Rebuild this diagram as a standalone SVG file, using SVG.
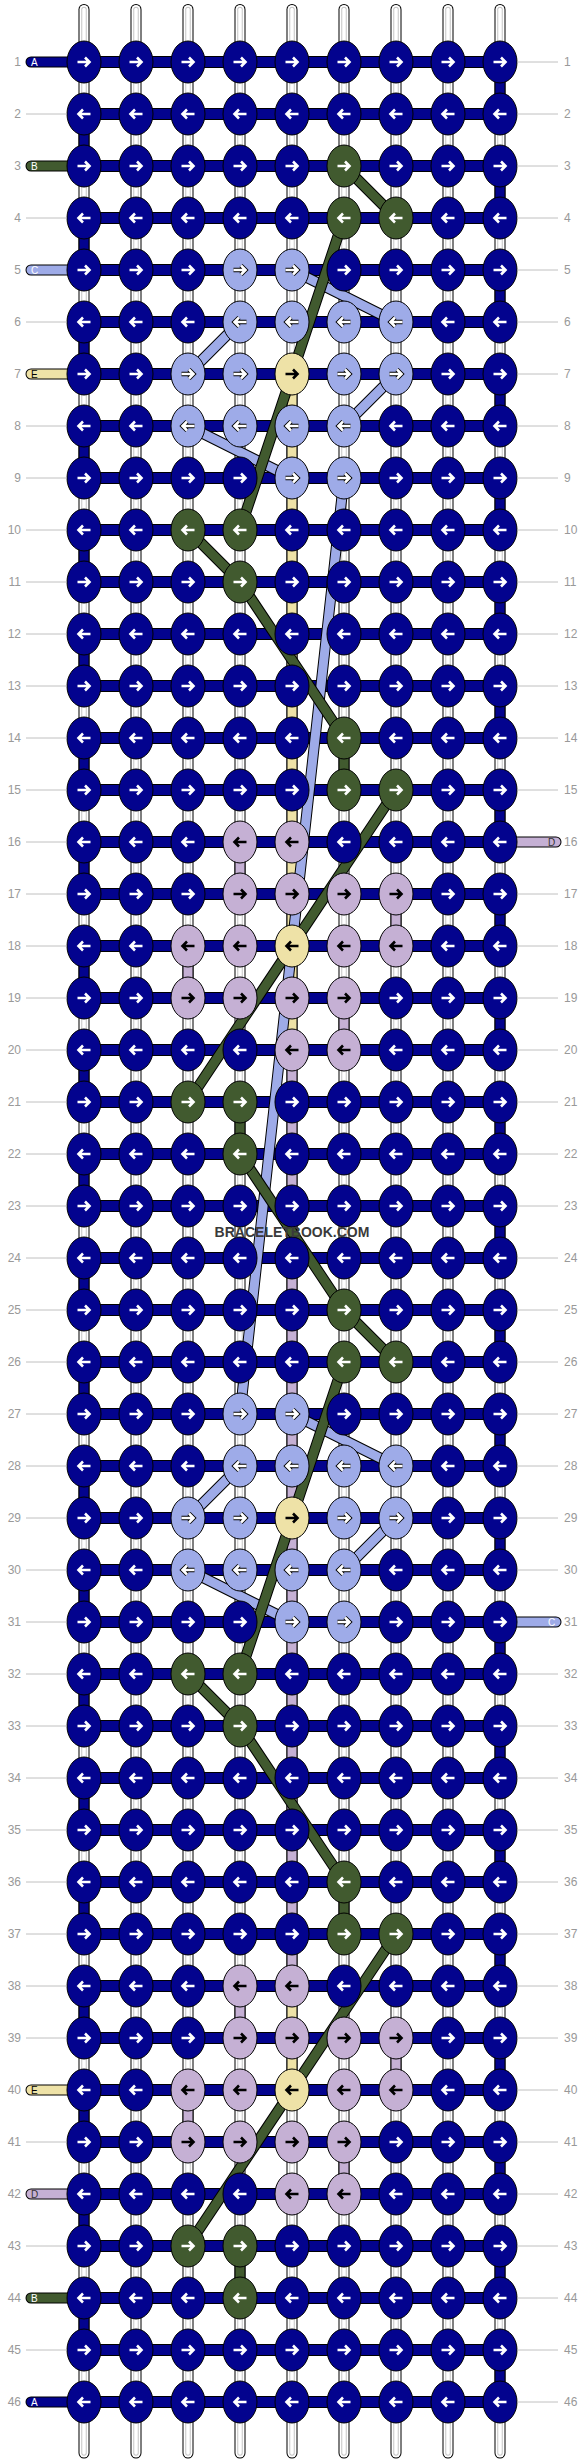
<svg xmlns="http://www.w3.org/2000/svg" width="584" height="2464" viewBox="0 0 584 2464">
<style>
.s1{fill:none;stroke:#000;stroke-width:11;stroke-linecap:round}
.s2{fill:none;stroke:#fff;stroke-width:9;stroke-linecap:round}
.s3{fill:none;stroke:#c4c4c4;stroke-width:5.5;stroke-linecap:round}
.s4{fill:none;stroke:#fff;stroke-width:3.5;stroke-linecap:round}
.vk{fill:none;stroke:#000;stroke-width:11}
.vb{fill:none;stroke:#03038e;stroke-width:9}
.vy{fill:none;stroke:#eee2a7;stroke-width:9}
.vp{fill:none;stroke:#c5b0d4;stroke-width:9}
.vg{fill:none;stroke:#415a2f;stroke-width:9}
.vl{fill:none;stroke:#9eabe8;stroke-width:9}
.hk{fill:none;stroke:#000;stroke-width:12}
.hb{fill:none;stroke:#03038e;stroke-width:10}
.tk{fill:none;stroke:#000;stroke-width:11;stroke-linecap:round}
.tb{fill:none;stroke:#03038e;stroke-width:9;stroke-linecap:round}
.tg{fill:none;stroke:#415a2f;stroke-width:9;stroke-linecap:round}
.tl{fill:none;stroke:#9eabe8;stroke-width:9;stroke-linecap:round}
.ty{fill:none;stroke:#eee2a7;stroke-width:9;stroke-linecap:round}
.tp{fill:none;stroke:#c5b0d4;stroke-width:9;stroke-linecap:round}
.dk{fill:none;stroke:#000;stroke-width:11}
.dg{fill:none;stroke:#415a2f;stroke-width:9}
.dl{fill:none;stroke:#9eabe8;stroke-width:9}
.nb{fill:#03038e;stroke:#000;stroke-width:1}
.ng{fill:#415a2f;stroke:#000;stroke-width:1}
.nl{fill:#9eabe8;stroke:#000;stroke-width:1}
.np{fill:#c5b0d4;stroke:#000;stroke-width:1}
.ny{fill:#eee2a7;stroke:#000;stroke-width:1}
.aw{fill:none;stroke:#fff;stroke-width:2.6}
.ak{fill:none;stroke:#000;stroke-width:2.6}
.ao{fill:none;stroke:#000;stroke-width:4.4}
.ln{fill:none;stroke:#c0c0c0;stroke-width:1}
.num{font-family:"Liberation Sans",Arial,sans-serif;font-size:12px;fill:#999}
.lt{font-family:"Liberation Sans",Arial,sans-serif;font-size:10px}
</style>
<defs>
<path id="sp" d="M0,9.5V2453"/>
<g id="strand"><use href="#sp" class="s1"/><use href="#sp" class="s2"/><use href="#sp" class="s3"/><use href="#sp" class="s4"/></g>
<path id="ar" d="M-6.5,0H5M1,-4.5L5.5,0L1,4.5"/>
<path id="al" d="M6.5,0H-5M-1,-4.5L-5.5,0L-1,4.5"/>
<ellipse id="el" rx="17" ry="21"/>
<g id="bR"><use href="#el" class="nb"/><use href="#ar" class="aw"/></g>
<g id="bL"><use href="#el" class="nb"/><use href="#al" class="aw"/></g>
<g id="gR"><use href="#el" class="ng"/><use href="#ar" class="aw"/></g>
<g id="gL"><use href="#el" class="ng"/><use href="#al" class="aw"/></g>
<g id="lR"><use href="#el" class="nl"/><use href="#ar" class="ao"/><use href="#ar" class="aw"/></g>
<g id="lL"><use href="#el" class="nl"/><use href="#al" class="ao"/><use href="#al" class="aw"/></g>
<g id="pR"><use href="#el" class="np"/><use href="#ar" class="ak"/></g>
<g id="pL"><use href="#el" class="np"/><use href="#al" class="ak"/></g>
<g id="yR"><use href="#el" class="ny"/><use href="#ar" class="ak"/></g>
<g id="yL"><use href="#el" class="ny"/><use href="#al" class="ak"/></g>
</defs>
<rect width="584" height="2464" fill="#fff"/>
<g id="strands">
<use href="#strand" x="84"/><use href="#strand" x="136"/><use href="#strand" x="188"/><use href="#strand" x="240"/><use href="#strand" x="292"/><use href="#strand" x="344"/><use href="#strand" x="396"/><use href="#strand" x="448"/><use href="#strand" x="500"/>
</g>
<g id="connectors">
<path class="vk" d="M84,114V2350" stroke-dasharray="52 52"/>
<path class="vb" d="M84,114V2350" stroke-dasharray="52 52"/>
<path class="vk" d="M500,62V2402" stroke-dasharray="52 52"/>
<path class="vb" d="M500,62V2402" stroke-dasharray="52 52"/>
<path class="vk" d="M292,374V2090M240,842V894M396,894V946M188,946V998M344,998V1050M240,1986V2038M396,2038V2090M188,2090V2142M344,2142V2194M344,738V790M240,1102V1154M344,1882V1934M240,2246V2298"/>
<path class="vy" d="M292,374V1050M292,1986V2090"/>
<path class="vp" d="M292,1050V1986M240,842V894M396,894V946M188,946V998M344,998V1050M240,1986V2038M396,2038V2090M188,2090V2142M344,2142V2194"/>
<path class="vg" d="M344,738V790M240,1102V1154M344,1882V1934M240,2246V2298"/>
<path class="hk" d="M84,62H500M84,114H500M84,166H500M84,218H500M84,270H500M84,322H500M84,374H500M84,426H500M84,478H500M84,530H500M84,582H500M84,634H500M84,686H500M84,738H500M84,790H500M84,842H500M84,894H500M84,946H500M84,998H500M84,1050H500M84,1102H500M84,1154H500M84,1206H500M84,1258H500M84,1310H500M84,1362H500M84,1414H500M84,1466H500M84,1518H500M84,1570H500M84,1622H500M84,1674H500M84,1726H500M84,1778H500M84,1830H500M84,1882H500M84,1934H500M84,1986H500M84,2038H500M84,2090H500M84,2142H500M84,2194H500M84,2246H500M84,2298H500M84,2350H500M84,2402H500"/>
<path class="hb" d="M84,62H500M84,114H500M84,166H500M84,218H500M84,270H500M84,322H500M84,374H500M84,426H500M84,478H500M84,530H500M84,582H500M84,634H500M84,686H500M84,738H500M84,790H500M84,842H500M84,894H500M84,946H500M84,998H500M84,1050H500M84,1102H500M84,1154H500M84,1206H500M84,1258H500M84,1310H500M84,1362H500M84,1414H500M84,1466H500M84,1518H500M84,1570H500M84,1622H500M84,1674H500M84,1726H500M84,1778H500M84,1830H500M84,1882H500M84,1934H500M84,1986H500M84,2038H500M84,2090H500M84,2142H500M84,2194H500M84,2246H500M84,2298H500M84,2350H500M84,2402H500"/>
<g id="tails">
<path class="tk" d="M31,62H84M31,166H84M31,270H84M31,374H84M31,2090H84M31,2194H84M31,2298H84M31,2402H84M500,842H556M500,1622H556"/>
<path class="tb" d="M31,62H84M31,2402H84"/>
<path class="tg" d="M31,166H84M31,2298H84"/>
<path class="tl" d="M31,270H84M500,1622H556"/>
<path class="ty" d="M31,374H84M31,2090H84"/>
<path class="tp" d="M31,2194H84M500,842H556"/>
</g>
<path class="dk" d="M292,270L396,322M240,322L188,374M396,374L344,426M188,426L292,478M344,478L240,1414M292,1414L396,1466M240,1466L188,1518M396,1518L344,1570M188,1570L292,1622"/>
<path class="dl" d="M292,270L396,322M240,322L188,374M396,374L344,426M188,426L292,478M344,478L240,1414M292,1414L396,1466M240,1466L188,1518M396,1518L344,1570M188,1570L292,1622"/>
<path class="dk" d="M344,166L396,218M344,218L240,530M188,530L240,582M240,582L344,738M396,790L188,1102M240,1154L344,1310M344,1310L396,1362M344,1362L240,1674M188,1674L240,1726M240,1726L344,1882M396,1934L188,2246"/>
<path class="dg" d="M344,166L396,218M344,218L240,530M188,530L240,582M240,582L344,738M396,790L188,1102M240,1154L344,1310M344,1310L396,1362M344,1362L240,1674M188,1674L240,1726M240,1726L344,1882M396,1934L188,2246"/>
</g>
<g id="nodes">
<g transform="translate(0,62)"><g id="n1_1"><use href="#bR" x="84"/></g><g id="n1_2"><use href="#bR" x="136"/></g><g id="n1_3"><use href="#bR" x="188"/></g><g id="n1_4"><use href="#bR" x="240"/></g><g id="n1_5"><use href="#bR" x="292"/></g><g id="n1_6"><use href="#bR" x="344"/></g><g id="n1_7"><use href="#bR" x="396"/></g><g id="n1_8"><use href="#bR" x="448"/></g><g id="n1_9"><use href="#bR" x="500"/></g></g>
<g transform="translate(0,114)"><g id="n2_1"><use href="#bL" x="84"/></g><g id="n2_2"><use href="#bL" x="136"/></g><g id="n2_3"><use href="#bL" x="188"/></g><g id="n2_4"><use href="#bL" x="240"/></g><g id="n2_5"><use href="#bL" x="292"/></g><g id="n2_6"><use href="#bL" x="344"/></g><g id="n2_7"><use href="#bL" x="396"/></g><g id="n2_8"><use href="#bL" x="448"/></g><g id="n2_9"><use href="#bL" x="500"/></g></g>
<g transform="translate(0,166)"><g id="n3_1"><use href="#bR" x="84"/></g><g id="n3_2"><use href="#bR" x="136"/></g><g id="n3_3"><use href="#bR" x="188"/></g><g id="n3_4"><use href="#bR" x="240"/></g><g id="n3_5"><use href="#bR" x="292"/></g><g id="n3_6"><use href="#gR" x="344"/></g><g id="n3_7"><use href="#bR" x="396"/></g><g id="n3_8"><use href="#bR" x="448"/></g><g id="n3_9"><use href="#bR" x="500"/></g></g>
<g transform="translate(0,218)"><g id="n4_1"><use href="#bL" x="84"/></g><g id="n4_2"><use href="#bL" x="136"/></g><g id="n4_3"><use href="#bL" x="188"/></g><g id="n4_4"><use href="#bL" x="240"/></g><g id="n4_5"><use href="#bL" x="292"/></g><g id="n4_6"><use href="#gL" x="344"/></g><g id="n4_7"><use href="#gL" x="396"/></g><g id="n4_8"><use href="#bL" x="448"/></g><g id="n4_9"><use href="#bL" x="500"/></g></g>
<g transform="translate(0,270)"><g id="n5_1"><use href="#bR" x="84"/></g><g id="n5_2"><use href="#bR" x="136"/></g><g id="n5_3"><use href="#bR" x="188"/></g><g id="n5_4"><use href="#lR" x="240"/></g><g id="n5_5"><use href="#lR" x="292"/></g><g id="n5_6"><use href="#bR" x="344"/></g><g id="n5_7"><use href="#bR" x="396"/></g><g id="n5_8"><use href="#bR" x="448"/></g><g id="n5_9"><use href="#bR" x="500"/></g></g>
<g transform="translate(0,322)"><g id="n6_1"><use href="#bL" x="84"/></g><g id="n6_2"><use href="#bL" x="136"/></g><g id="n6_3"><use href="#bL" x="188"/></g><g id="n6_4"><use href="#lL" x="240"/></g><g id="n6_5"><use href="#lL" x="292"/></g><g id="n6_6"><use href="#lL" x="344"/></g><g id="n6_7"><use href="#lL" x="396"/></g><g id="n6_8"><use href="#bL" x="448"/></g><g id="n6_9"><use href="#bL" x="500"/></g></g>
<g transform="translate(0,374)"><g id="n7_1"><use href="#bR" x="84"/></g><g id="n7_2"><use href="#bR" x="136"/></g><g id="n7_3"><use href="#lR" x="188"/></g><g id="n7_4"><use href="#lR" x="240"/></g><g id="n7_5"><use href="#yR" x="292"/></g><g id="n7_6"><use href="#lR" x="344"/></g><g id="n7_7"><use href="#lR" x="396"/></g><g id="n7_8"><use href="#bR" x="448"/></g><g id="n7_9"><use href="#bR" x="500"/></g></g>
<g transform="translate(0,426)"><g id="n8_1"><use href="#bL" x="84"/></g><g id="n8_2"><use href="#bL" x="136"/></g><g id="n8_3"><use href="#lL" x="188"/></g><g id="n8_4"><use href="#lL" x="240"/></g><g id="n8_5"><use href="#lL" x="292"/></g><g id="n8_6"><use href="#lL" x="344"/></g><g id="n8_7"><use href="#bL" x="396"/></g><g id="n8_8"><use href="#bL" x="448"/></g><g id="n8_9"><use href="#bL" x="500"/></g></g>
<g transform="translate(0,478)"><g id="n9_1"><use href="#bR" x="84"/></g><g id="n9_2"><use href="#bR" x="136"/></g><g id="n9_3"><use href="#bR" x="188"/></g><g id="n9_4"><use href="#bR" x="240"/></g><g id="n9_5"><use href="#lR" x="292"/></g><g id="n9_6"><use href="#lR" x="344"/></g><g id="n9_7"><use href="#bR" x="396"/></g><g id="n9_8"><use href="#bR" x="448"/></g><g id="n9_9"><use href="#bR" x="500"/></g></g>
<g transform="translate(0,530)"><g id="n10_1"><use href="#bL" x="84"/></g><g id="n10_2"><use href="#bL" x="136"/></g><g id="n10_3"><use href="#gL" x="188"/></g><g id="n10_4"><use href="#gL" x="240"/></g><g id="n10_5"><use href="#bL" x="292"/></g><g id="n10_6"><use href="#bL" x="344"/></g><g id="n10_7"><use href="#bL" x="396"/></g><g id="n10_8"><use href="#bL" x="448"/></g><g id="n10_9"><use href="#bL" x="500"/></g></g>
<g transform="translate(0,582)"><g id="n11_1"><use href="#bR" x="84"/></g><g id="n11_2"><use href="#bR" x="136"/></g><g id="n11_3"><use href="#bR" x="188"/></g><g id="n11_4"><use href="#gR" x="240"/></g><g id="n11_5"><use href="#bR" x="292"/></g><g id="n11_6"><use href="#bR" x="344"/></g><g id="n11_7"><use href="#bR" x="396"/></g><g id="n11_8"><use href="#bR" x="448"/></g><g id="n11_9"><use href="#bR" x="500"/></g></g>
<g transform="translate(0,634)"><g id="n12_1"><use href="#bL" x="84"/></g><g id="n12_2"><use href="#bL" x="136"/></g><g id="n12_3"><use href="#bL" x="188"/></g><g id="n12_4"><use href="#bL" x="240"/></g><g id="n12_5"><use href="#bL" x="292"/></g><g id="n12_6"><use href="#bL" x="344"/></g><g id="n12_7"><use href="#bL" x="396"/></g><g id="n12_8"><use href="#bL" x="448"/></g><g id="n12_9"><use href="#bL" x="500"/></g></g>
<g transform="translate(0,686)"><g id="n13_1"><use href="#bR" x="84"/></g><g id="n13_2"><use href="#bR" x="136"/></g><g id="n13_3"><use href="#bR" x="188"/></g><g id="n13_4"><use href="#bR" x="240"/></g><g id="n13_5"><use href="#bR" x="292"/></g><g id="n13_6"><use href="#bR" x="344"/></g><g id="n13_7"><use href="#bR" x="396"/></g><g id="n13_8"><use href="#bR" x="448"/></g><g id="n13_9"><use href="#bR" x="500"/></g></g>
<g transform="translate(0,738)"><g id="n14_1"><use href="#bL" x="84"/></g><g id="n14_2"><use href="#bL" x="136"/></g><g id="n14_3"><use href="#bL" x="188"/></g><g id="n14_4"><use href="#bL" x="240"/></g><g id="n14_5"><use href="#bL" x="292"/></g><g id="n14_6"><use href="#gL" x="344"/></g><g id="n14_7"><use href="#bL" x="396"/></g><g id="n14_8"><use href="#bL" x="448"/></g><g id="n14_9"><use href="#bL" x="500"/></g></g>
<g transform="translate(0,790)"><g id="n15_1"><use href="#bR" x="84"/></g><g id="n15_2"><use href="#bR" x="136"/></g><g id="n15_3"><use href="#bR" x="188"/></g><g id="n15_4"><use href="#bR" x="240"/></g><g id="n15_5"><use href="#bR" x="292"/></g><g id="n15_6"><use href="#gR" x="344"/></g><g id="n15_7"><use href="#gR" x="396"/></g><g id="n15_8"><use href="#bR" x="448"/></g><g id="n15_9"><use href="#bR" x="500"/></g></g>
<g transform="translate(0,842)"><g id="n16_1"><use href="#bL" x="84"/></g><g id="n16_2"><use href="#bL" x="136"/></g><g id="n16_3"><use href="#bL" x="188"/></g><g id="n16_4"><use href="#pL" x="240"/></g><g id="n16_5"><use href="#pL" x="292"/></g><g id="n16_6"><use href="#bL" x="344"/></g><g id="n16_7"><use href="#bL" x="396"/></g><g id="n16_8"><use href="#bL" x="448"/></g><g id="n16_9"><use href="#bL" x="500"/></g></g>
<g transform="translate(0,894)"><g id="n17_1"><use href="#bR" x="84"/></g><g id="n17_2"><use href="#bR" x="136"/></g><g id="n17_3"><use href="#bR" x="188"/></g><g id="n17_4"><use href="#pR" x="240"/></g><g id="n17_5"><use href="#pR" x="292"/></g><g id="n17_6"><use href="#pR" x="344"/></g><g id="n17_7"><use href="#pR" x="396"/></g><g id="n17_8"><use href="#bR" x="448"/></g><g id="n17_9"><use href="#bR" x="500"/></g></g>
<g transform="translate(0,946)"><g id="n18_1"><use href="#bL" x="84"/></g><g id="n18_2"><use href="#bL" x="136"/></g><g id="n18_3"><use href="#pL" x="188"/></g><g id="n18_4"><use href="#pL" x="240"/></g><g id="n18_5"><use href="#yL" x="292"/></g><g id="n18_6"><use href="#pL" x="344"/></g><g id="n18_7"><use href="#pL" x="396"/></g><g id="n18_8"><use href="#bL" x="448"/></g><g id="n18_9"><use href="#bL" x="500"/></g></g>
<g transform="translate(0,998)"><g id="n19_1"><use href="#bR" x="84"/></g><g id="n19_2"><use href="#bR" x="136"/></g><g id="n19_3"><use href="#pR" x="188"/></g><g id="n19_4"><use href="#pR" x="240"/></g><g id="n19_5"><use href="#pR" x="292"/></g><g id="n19_6"><use href="#pR" x="344"/></g><g id="n19_7"><use href="#bR" x="396"/></g><g id="n19_8"><use href="#bR" x="448"/></g><g id="n19_9"><use href="#bR" x="500"/></g></g>
<g transform="translate(0,1050)"><g id="n20_1"><use href="#bL" x="84"/></g><g id="n20_2"><use href="#bL" x="136"/></g><g id="n20_3"><use href="#bL" x="188"/></g><g id="n20_4"><use href="#bL" x="240"/></g><g id="n20_5"><use href="#pL" x="292"/></g><g id="n20_6"><use href="#pL" x="344"/></g><g id="n20_7"><use href="#bL" x="396"/></g><g id="n20_8"><use href="#bL" x="448"/></g><g id="n20_9"><use href="#bL" x="500"/></g></g>
<g transform="translate(0,1102)"><g id="n21_1"><use href="#bR" x="84"/></g><g id="n21_2"><use href="#bR" x="136"/></g><g id="n21_3"><use href="#gR" x="188"/></g><g id="n21_4"><use href="#gR" x="240"/></g><g id="n21_5"><use href="#bR" x="292"/></g><g id="n21_6"><use href="#bR" x="344"/></g><g id="n21_7"><use href="#bR" x="396"/></g><g id="n21_8"><use href="#bR" x="448"/></g><g id="n21_9"><use href="#bR" x="500"/></g></g>
<g transform="translate(0,1154)"><g id="n22_1"><use href="#bL" x="84"/></g><g id="n22_2"><use href="#bL" x="136"/></g><g id="n22_3"><use href="#bL" x="188"/></g><g id="n22_4"><use href="#gL" x="240"/></g><g id="n22_5"><use href="#bL" x="292"/></g><g id="n22_6"><use href="#bL" x="344"/></g><g id="n22_7"><use href="#bL" x="396"/></g><g id="n22_8"><use href="#bL" x="448"/></g><g id="n22_9"><use href="#bL" x="500"/></g></g>
<g transform="translate(0,1206)"><g id="n23_1"><use href="#bR" x="84"/></g><g id="n23_2"><use href="#bR" x="136"/></g><g id="n23_3"><use href="#bR" x="188"/></g><g id="n23_4"><use href="#bR" x="240"/></g><g id="n23_5"><use href="#bR" x="292"/></g><g id="n23_6"><use href="#bR" x="344"/></g><g id="n23_7"><use href="#bR" x="396"/></g><g id="n23_8"><use href="#bR" x="448"/></g><g id="n23_9"><use href="#bR" x="500"/></g></g>
<g transform="translate(0,1258)"><g id="n24_1"><use href="#bL" x="84"/></g><g id="n24_2"><use href="#bL" x="136"/></g><g id="n24_3"><use href="#bL" x="188"/></g><g id="n24_4"><use href="#bL" x="240"/></g><g id="n24_5"><use href="#bL" x="292"/></g><g id="n24_6"><use href="#bL" x="344"/></g><g id="n24_7"><use href="#bL" x="396"/></g><g id="n24_8"><use href="#bL" x="448"/></g><g id="n24_9"><use href="#bL" x="500"/></g></g>
<g transform="translate(0,1310)"><g id="n25_1"><use href="#bR" x="84"/></g><g id="n25_2"><use href="#bR" x="136"/></g><g id="n25_3"><use href="#bR" x="188"/></g><g id="n25_4"><use href="#bR" x="240"/></g><g id="n25_5"><use href="#bR" x="292"/></g><g id="n25_6"><use href="#gR" x="344"/></g><g id="n25_7"><use href="#bR" x="396"/></g><g id="n25_8"><use href="#bR" x="448"/></g><g id="n25_9"><use href="#bR" x="500"/></g></g>
<g transform="translate(0,1362)"><g id="n26_1"><use href="#bL" x="84"/></g><g id="n26_2"><use href="#bL" x="136"/></g><g id="n26_3"><use href="#bL" x="188"/></g><g id="n26_4"><use href="#bL" x="240"/></g><g id="n26_5"><use href="#bL" x="292"/></g><g id="n26_6"><use href="#gL" x="344"/></g><g id="n26_7"><use href="#gL" x="396"/></g><g id="n26_8"><use href="#bL" x="448"/></g><g id="n26_9"><use href="#bL" x="500"/></g></g>
<g transform="translate(0,1414)"><g id="n27_1"><use href="#bR" x="84"/></g><g id="n27_2"><use href="#bR" x="136"/></g><g id="n27_3"><use href="#bR" x="188"/></g><g id="n27_4"><use href="#lR" x="240"/></g><g id="n27_5"><use href="#lR" x="292"/></g><g id="n27_6"><use href="#bR" x="344"/></g><g id="n27_7"><use href="#bR" x="396"/></g><g id="n27_8"><use href="#bR" x="448"/></g><g id="n27_9"><use href="#bR" x="500"/></g></g>
<g transform="translate(0,1466)"><g id="n28_1"><use href="#bL" x="84"/></g><g id="n28_2"><use href="#bL" x="136"/></g><g id="n28_3"><use href="#bL" x="188"/></g><g id="n28_4"><use href="#lL" x="240"/></g><g id="n28_5"><use href="#lL" x="292"/></g><g id="n28_6"><use href="#lL" x="344"/></g><g id="n28_7"><use href="#lL" x="396"/></g><g id="n28_8"><use href="#bL" x="448"/></g><g id="n28_9"><use href="#bL" x="500"/></g></g>
<g transform="translate(0,1518)"><g id="n29_1"><use href="#bR" x="84"/></g><g id="n29_2"><use href="#bR" x="136"/></g><g id="n29_3"><use href="#lR" x="188"/></g><g id="n29_4"><use href="#lR" x="240"/></g><g id="n29_5"><use href="#yR" x="292"/></g><g id="n29_6"><use href="#lR" x="344"/></g><g id="n29_7"><use href="#lR" x="396"/></g><g id="n29_8"><use href="#bR" x="448"/></g><g id="n29_9"><use href="#bR" x="500"/></g></g>
<g transform="translate(0,1570)"><g id="n30_1"><use href="#bL" x="84"/></g><g id="n30_2"><use href="#bL" x="136"/></g><g id="n30_3"><use href="#lL" x="188"/></g><g id="n30_4"><use href="#lL" x="240"/></g><g id="n30_5"><use href="#lL" x="292"/></g><g id="n30_6"><use href="#lL" x="344"/></g><g id="n30_7"><use href="#bL" x="396"/></g><g id="n30_8"><use href="#bL" x="448"/></g><g id="n30_9"><use href="#bL" x="500"/></g></g>
<g transform="translate(0,1622)"><g id="n31_1"><use href="#bR" x="84"/></g><g id="n31_2"><use href="#bR" x="136"/></g><g id="n31_3"><use href="#bR" x="188"/></g><g id="n31_4"><use href="#bR" x="240"/></g><g id="n31_5"><use href="#lR" x="292"/></g><g id="n31_6"><use href="#lR" x="344"/></g><g id="n31_7"><use href="#bR" x="396"/></g><g id="n31_8"><use href="#bR" x="448"/></g><g id="n31_9"><use href="#bR" x="500"/></g></g>
<g transform="translate(0,1674)"><g id="n32_1"><use href="#bL" x="84"/></g><g id="n32_2"><use href="#bL" x="136"/></g><g id="n32_3"><use href="#gL" x="188"/></g><g id="n32_4"><use href="#gL" x="240"/></g><g id="n32_5"><use href="#bL" x="292"/></g><g id="n32_6"><use href="#bL" x="344"/></g><g id="n32_7"><use href="#bL" x="396"/></g><g id="n32_8"><use href="#bL" x="448"/></g><g id="n32_9"><use href="#bL" x="500"/></g></g>
<g transform="translate(0,1726)"><g id="n33_1"><use href="#bR" x="84"/></g><g id="n33_2"><use href="#bR" x="136"/></g><g id="n33_3"><use href="#bR" x="188"/></g><g id="n33_4"><use href="#gR" x="240"/></g><g id="n33_5"><use href="#bR" x="292"/></g><g id="n33_6"><use href="#bR" x="344"/></g><g id="n33_7"><use href="#bR" x="396"/></g><g id="n33_8"><use href="#bR" x="448"/></g><g id="n33_9"><use href="#bR" x="500"/></g></g>
<g transform="translate(0,1778)"><g id="n34_1"><use href="#bL" x="84"/></g><g id="n34_2"><use href="#bL" x="136"/></g><g id="n34_3"><use href="#bL" x="188"/></g><g id="n34_4"><use href="#bL" x="240"/></g><g id="n34_5"><use href="#bL" x="292"/></g><g id="n34_6"><use href="#bL" x="344"/></g><g id="n34_7"><use href="#bL" x="396"/></g><g id="n34_8"><use href="#bL" x="448"/></g><g id="n34_9"><use href="#bL" x="500"/></g></g>
<g transform="translate(0,1830)"><g id="n35_1"><use href="#bR" x="84"/></g><g id="n35_2"><use href="#bR" x="136"/></g><g id="n35_3"><use href="#bR" x="188"/></g><g id="n35_4"><use href="#bR" x="240"/></g><g id="n35_5"><use href="#bR" x="292"/></g><g id="n35_6"><use href="#bR" x="344"/></g><g id="n35_7"><use href="#bR" x="396"/></g><g id="n35_8"><use href="#bR" x="448"/></g><g id="n35_9"><use href="#bR" x="500"/></g></g>
<g transform="translate(0,1882)"><g id="n36_1"><use href="#bL" x="84"/></g><g id="n36_2"><use href="#bL" x="136"/></g><g id="n36_3"><use href="#bL" x="188"/></g><g id="n36_4"><use href="#bL" x="240"/></g><g id="n36_5"><use href="#bL" x="292"/></g><g id="n36_6"><use href="#gL" x="344"/></g><g id="n36_7"><use href="#bL" x="396"/></g><g id="n36_8"><use href="#bL" x="448"/></g><g id="n36_9"><use href="#bL" x="500"/></g></g>
<g transform="translate(0,1934)"><g id="n37_1"><use href="#bR" x="84"/></g><g id="n37_2"><use href="#bR" x="136"/></g><g id="n37_3"><use href="#bR" x="188"/></g><g id="n37_4"><use href="#bR" x="240"/></g><g id="n37_5"><use href="#bR" x="292"/></g><g id="n37_6"><use href="#gR" x="344"/></g><g id="n37_7"><use href="#gR" x="396"/></g><g id="n37_8"><use href="#bR" x="448"/></g><g id="n37_9"><use href="#bR" x="500"/></g></g>
<g transform="translate(0,1986)"><g id="n38_1"><use href="#bL" x="84"/></g><g id="n38_2"><use href="#bL" x="136"/></g><g id="n38_3"><use href="#bL" x="188"/></g><g id="n38_4"><use href="#pL" x="240"/></g><g id="n38_5"><use href="#pL" x="292"/></g><g id="n38_6"><use href="#bL" x="344"/></g><g id="n38_7"><use href="#bL" x="396"/></g><g id="n38_8"><use href="#bL" x="448"/></g><g id="n38_9"><use href="#bL" x="500"/></g></g>
<g transform="translate(0,2038)"><g id="n39_1"><use href="#bR" x="84"/></g><g id="n39_2"><use href="#bR" x="136"/></g><g id="n39_3"><use href="#bR" x="188"/></g><g id="n39_4"><use href="#pR" x="240"/></g><g id="n39_5"><use href="#pR" x="292"/></g><g id="n39_6"><use href="#pR" x="344"/></g><g id="n39_7"><use href="#pR" x="396"/></g><g id="n39_8"><use href="#bR" x="448"/></g><g id="n39_9"><use href="#bR" x="500"/></g></g>
<g transform="translate(0,2090)"><g id="n40_1"><use href="#bL" x="84"/></g><g id="n40_2"><use href="#bL" x="136"/></g><g id="n40_3"><use href="#pL" x="188"/></g><g id="n40_4"><use href="#pL" x="240"/></g><g id="n40_5"><use href="#yL" x="292"/></g><g id="n40_6"><use href="#pL" x="344"/></g><g id="n40_7"><use href="#pL" x="396"/></g><g id="n40_8"><use href="#bL" x="448"/></g><g id="n40_9"><use href="#bL" x="500"/></g></g>
<g transform="translate(0,2142)"><g id="n41_1"><use href="#bR" x="84"/></g><g id="n41_2"><use href="#bR" x="136"/></g><g id="n41_3"><use href="#pR" x="188"/></g><g id="n41_4"><use href="#pR" x="240"/></g><g id="n41_5"><use href="#pR" x="292"/></g><g id="n41_6"><use href="#pR" x="344"/></g><g id="n41_7"><use href="#bR" x="396"/></g><g id="n41_8"><use href="#bR" x="448"/></g><g id="n41_9"><use href="#bR" x="500"/></g></g>
<g transform="translate(0,2194)"><g id="n42_1"><use href="#bL" x="84"/></g><g id="n42_2"><use href="#bL" x="136"/></g><g id="n42_3"><use href="#bL" x="188"/></g><g id="n42_4"><use href="#bL" x="240"/></g><g id="n42_5"><use href="#pL" x="292"/></g><g id="n42_6"><use href="#pL" x="344"/></g><g id="n42_7"><use href="#bL" x="396"/></g><g id="n42_8"><use href="#bL" x="448"/></g><g id="n42_9"><use href="#bL" x="500"/></g></g>
<g transform="translate(0,2246)"><g id="n43_1"><use href="#bR" x="84"/></g><g id="n43_2"><use href="#bR" x="136"/></g><g id="n43_3"><use href="#gR" x="188"/></g><g id="n43_4"><use href="#gR" x="240"/></g><g id="n43_5"><use href="#bR" x="292"/></g><g id="n43_6"><use href="#bR" x="344"/></g><g id="n43_7"><use href="#bR" x="396"/></g><g id="n43_8"><use href="#bR" x="448"/></g><g id="n43_9"><use href="#bR" x="500"/></g></g>
<g transform="translate(0,2298)"><g id="n44_1"><use href="#bL" x="84"/></g><g id="n44_2"><use href="#bL" x="136"/></g><g id="n44_3"><use href="#bL" x="188"/></g><g id="n44_4"><use href="#gL" x="240"/></g><g id="n44_5"><use href="#bL" x="292"/></g><g id="n44_6"><use href="#bL" x="344"/></g><g id="n44_7"><use href="#bL" x="396"/></g><g id="n44_8"><use href="#bL" x="448"/></g><g id="n44_9"><use href="#bL" x="500"/></g></g>
<g transform="translate(0,2350)"><g id="n45_1"><use href="#bR" x="84"/></g><g id="n45_2"><use href="#bR" x="136"/></g><g id="n45_3"><use href="#bR" x="188"/></g><g id="n45_4"><use href="#bR" x="240"/></g><g id="n45_5"><use href="#bR" x="292"/></g><g id="n45_6"><use href="#bR" x="344"/></g><g id="n45_7"><use href="#bR" x="396"/></g><g id="n45_8"><use href="#bR" x="448"/></g><g id="n45_9"><use href="#bR" x="500"/></g></g>
<g transform="translate(0,2402)"><g id="n46_1"><use href="#bL" x="84"/></g><g id="n46_2"><use href="#bL" x="136"/></g><g id="n46_3"><use href="#bL" x="188"/></g><g id="n46_4"><use href="#bL" x="240"/></g><g id="n46_5"><use href="#bL" x="292"/></g><g id="n46_6"><use href="#bL" x="344"/></g><g id="n46_7"><use href="#bL" x="396"/></g><g id="n46_8"><use href="#bL" x="448"/></g><g id="n46_9"><use href="#bL" x="500"/></g></g>
</g>
<g id="labels">
<path class="ln" d="M26,114H67M26,218H67M26,322H67M26,426H67M26,478H67M26,530H67M26,582H67M26,634H67M26,686H67M26,738H67M26,790H67M26,842H67M26,894H67M26,946H67M26,998H67M26,1050H67M26,1102H67M26,1154H67M26,1206H67M26,1258H67M26,1310H67M26,1362H67M26,1414H67M26,1466H67M26,1518H67M26,1570H67M26,1622H67M26,1674H67M26,1726H67M26,1778H67M26,1830H67M26,1882H67M26,1934H67M26,1986H67M26,2038H67M26,2142H67M26,2246H67M26,2350H67"/>
<path class="ln" d="M517,62H558M517,114H558M517,166H558M517,218H558M517,270H558M517,322H558M517,374H558M517,426H558M517,478H558M517,530H558M517,582H558M517,634H558M517,686H558M517,738H558M517,790H558M517,894H558M517,946H558M517,998H558M517,1050H558M517,1102H558M517,1154H558M517,1206H558M517,1258H558M517,1310H558M517,1362H558M517,1414H558M517,1466H558M517,1518H558M517,1570H558M517,1674H558M517,1726H558M517,1778H558M517,1830H558M517,1882H558M517,1934H558M517,1986H558M517,2038H558M517,2090H558M517,2142H558M517,2194H558M517,2246H558M517,2298H558M517,2350H558M517,2402H558"/>
<g class="num" text-anchor="end">
<text x="21" y="66">1</text><text x="21" y="118">2</text><text x="21" y="170">3</text><text x="21" y="222">4</text><text x="21" y="274">5</text><text x="21" y="326">6</text><text x="21" y="378">7</text><text x="21" y="430">8</text><text x="21" y="482">9</text><text x="21" y="534">10</text><text x="21" y="586">11</text><text x="21" y="638">12</text><text x="21" y="690">13</text><text x="21" y="742">14</text><text x="21" y="794">15</text><text x="21" y="846">16</text><text x="21" y="898">17</text><text x="21" y="950">18</text><text x="21" y="1002">19</text><text x="21" y="1054">20</text><text x="21" y="1106">21</text><text x="21" y="1158">22</text><text x="21" y="1210">23</text><text x="21" y="1262">24</text><text x="21" y="1314">25</text><text x="21" y="1366">26</text><text x="21" y="1418">27</text><text x="21" y="1470">28</text><text x="21" y="1522">29</text><text x="21" y="1574">30</text><text x="21" y="1626">31</text><text x="21" y="1678">32</text><text x="21" y="1730">33</text><text x="21" y="1782">34</text><text x="21" y="1834">35</text><text x="21" y="1886">36</text><text x="21" y="1938">37</text><text x="21" y="1990">38</text><text x="21" y="2042">39</text><text x="21" y="2094">40</text><text x="21" y="2146">41</text><text x="21" y="2198">42</text><text x="21" y="2250">43</text><text x="21" y="2302">44</text><text x="21" y="2354">45</text><text x="21" y="2406">46</text>
</g>
<g class="num">
<text x="564" y="66">1</text><text x="564" y="118">2</text><text x="564" y="170">3</text><text x="564" y="222">4</text><text x="564" y="274">5</text><text x="564" y="326">6</text><text x="564" y="378">7</text><text x="564" y="430">8</text><text x="564" y="482">9</text><text x="564" y="534">10</text><text x="564" y="586">11</text><text x="564" y="638">12</text><text x="564" y="690">13</text><text x="564" y="742">14</text><text x="564" y="794">15</text><text x="564" y="846">16</text><text x="564" y="898">17</text><text x="564" y="950">18</text><text x="564" y="1002">19</text><text x="564" y="1054">20</text><text x="564" y="1106">21</text><text x="564" y="1158">22</text><text x="564" y="1210">23</text><text x="564" y="1262">24</text><text x="564" y="1314">25</text><text x="564" y="1366">26</text><text x="564" y="1418">27</text><text x="564" y="1470">28</text><text x="564" y="1522">29</text><text x="564" y="1574">30</text><text x="564" y="1626">31</text><text x="564" y="1678">32</text><text x="564" y="1730">33</text><text x="564" y="1782">34</text><text x="564" y="1834">35</text><text x="564" y="1886">36</text><text x="564" y="1938">37</text><text x="564" y="1990">38</text><text x="564" y="2042">39</text><text x="564" y="2094">40</text><text x="564" y="2146">41</text><text x="564" y="2198">42</text><text x="564" y="2250">43</text><text x="564" y="2302">44</text><text x="564" y="2354">45</text><text x="564" y="2406">46</text>
</g>
<g class="lt">
<text x="31" y="65.5" fill="#fff">A</text><text x="31" y="169.5" fill="#fff">B</text><text x="31" y="273.5" fill="#fff">C</text><text x="31" y="377.5" fill="#000">E</text><text x="31" y="2093.5" fill="#000">E</text><text x="31" y="2197.5" fill="#333">D</text><text x="31" y="2301.5" fill="#fff">B</text><text x="31" y="2405.5" fill="#fff">A</text>
<text x="548" y="845.5" fill="#333">D</text><text x="548" y="1625.5" fill="#fff">C</text>
</g>
</g>
<text x="292" y="1237" text-anchor="middle" font-family="Liberation Sans, Arial, sans-serif" font-weight="bold" font-size="14" fill="#3a3a3a">BRACELETBOOK.COM</text>
</svg>
